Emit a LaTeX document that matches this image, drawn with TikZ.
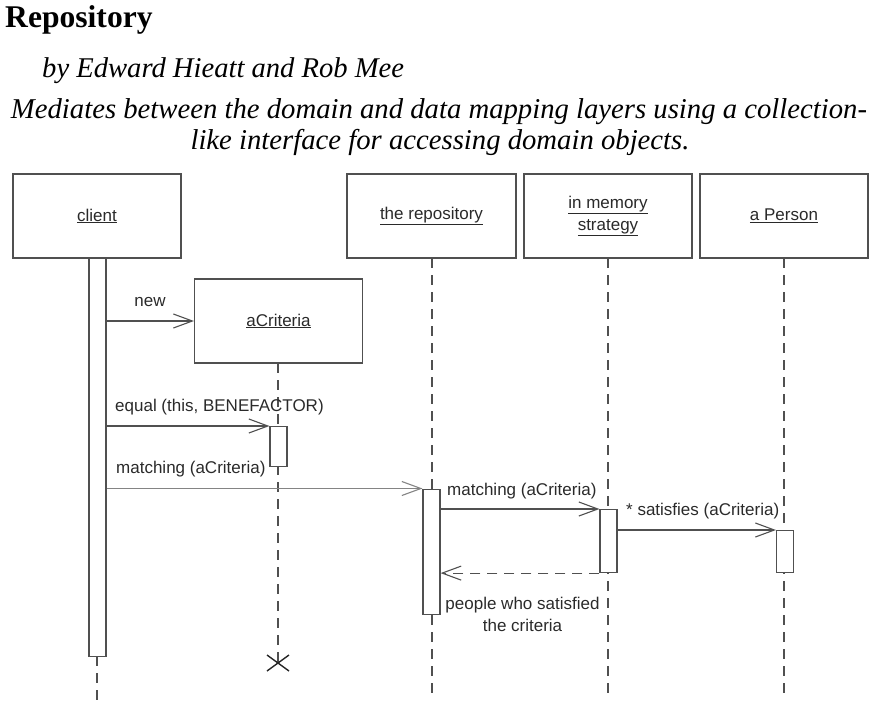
\documentclass[tikz,border=0pt]{standalone}
\usepackage{fontspec}
\setmainfont{Liberation Serif}
\setsansfont{Liberation Sans}
\usetikzlibrary{arrows.meta}
\definecolor{ln}{HTML}{505050}
\definecolor{tx}{HTML}{2A2A2A}
\begin{document}
\begin{tikzpicture}[x=1pt,y=-1pt,
  head/.style={draw=ln, line width=1.1pt, fill=white, minimum width=168pt, minimum height=84pt, inner sep=0pt,
    font=\sffamily\fontsize{17}{22}\selectfont, text=tx, align=center},
  actbar/.style={draw=ln, line width=1.1pt, fill=white, minimum width=17pt, inner sep=0pt, anchor=north},
  life/.style={draw=ln, line width=1.1pt, dash pattern=on 10pt off 7pt},
  msg/.style={draw=ln, line width=1.1pt, -{Straight Barb[length=19pt,width=14pt,line width=1.1pt]}},
  ret/.style={msg, dash pattern=on 10pt off 7pt},
  lbl/.style={font=\sffamily\fontsize{17}{22}\selectfont, text=tx, inner sep=0pt},
  ttl/.style={inner sep=0pt, anchor=base west}
]
\useasboundingbox (0,0) rectangle (877,707);

% titles
\node[ttl, font=\fontsize{31.6}{36}\bfseries\selectfont] (title) at (5,27) {Repository};
\node[ttl, font=\fontsize{28.6}{32}\itshape\selectfont] (authors) at (42,77) {by Edward Hieatt and Rob Mee};
\node[inner sep=0pt, anchor=base, font=\fontsize{28.7}{32}\itshape\selectfont] (desc1) at (439,118) {Mediates between the domain and data mapping layers using a collection-};
\node[inner sep=0pt, anchor=base, font=\fontsize{28.7}{32}\itshape\selectfont] (desc2) at (440,149) {like interface for accessing domain objects.};

% lifeline ends
\coordinate (clientend) at (97,700);
\coordinate (repend) at (432,700);
\coordinate (memend) at (608,700);
\coordinate (perend) at (784,700);
\coordinate (xmark) at (278,663);

% lifelines (drawn first, bars on top)
\draw[life] (97,656) -- (clientend);
\draw[life] (278,363) -- (xmark);
\draw[life] (432,258) -- (repend);
\draw[life] (608,258) -- (memend);
\draw[life] (784,258) -- (perend);

% heads
\node[head] (client) at (97,216) {\underline{client}};
\node[head] (crit) at (278.5,321) {\underline{aCriteria}};
\node[head, minimum width=169pt] (rep) at (431.5,216) {\underline{the repository}};
\node[head] (mem) at (608,216) {\underline{in memory}\\[0pt]\underline{strategy}};
\node[head] (per) at (784,216) {\underline{a Person}};

% activation bars
\node[actbar, minimum height=398pt] (clientbar) at (97.5,258) {};
\node[actbar, minimum height=40pt] (critbar) at (278.5,426) {};
\node[actbar, minimum height=125pt] (repbar) at (431.5,488.5) {};
\node[actbar, minimum height=63pt] (membar) at (608.5,509) {};
\node[actbar, minimum height=42pt] (perbar) at (785,530) {};

% destruction mark
\draw[draw=black!85, line width=1.4pt] ([shift={(-11,-8)}]xmark) -- ([shift={(11,8)}]xmark)
      ([shift={(-11,8)}]xmark) -- ([shift={(11,-8)}]xmark);

% messages
\draw[msg] (clientbar.east |- crit.west) -- (crit.west);
\draw[msg] (clientbar.east |- critbar.north) -- (critbar.north west);
\draw[msg, draw=ln!70, line width=0.9pt] (clientbar.east |- repbar.north) -- (repbar.north west);
\draw[msg] (repbar.east |- membar.north) -- (membar.north west);
\draw[msg] (membar.east |- perbar.north) -- (perbar.north west);
\draw[ret] (membar.south west) -- (repbar.east |- membar.south);

% labels
\node[lbl, anchor=base] (lnew) at (150,306) {new};
\node[lbl, anchor=base west] (lequal) at (115,411) {equal (this, BENEFACTOR)};
\node[lbl, anchor=base west] (lmatch1) at (116,473) {matching (aCriteria)};
\node[lbl, anchor=base west] (lmatch2) at (447,495) {matching (aCriteria)};
\node[lbl, anchor=base west] (lsat) at (626,515) {* satisfies (aCriteria)};
\node[lbl, anchor=base] (lret1) at (522.5,609) {people who satisfied};
\node[lbl, anchor=base] (lret2) at (522.5,631) {the criteria};
\end{tikzpicture}
\end{document}
